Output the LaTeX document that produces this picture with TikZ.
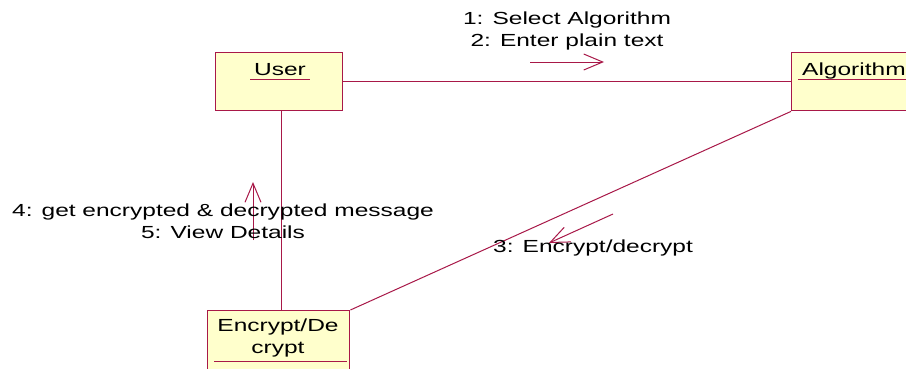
\documentclass[tikz,border=0pt]{standalone}
\usepackage{fontspec}
\newfontfamily\lbl[FakeStretch=1.4]{Liberation Sans}
\usetikzlibrary{arrows.meta}
\definecolor{rosered}{RGB}{168,24,72}
\definecolor{objfill}{RGB}{255,255,204}
\tikzset{
  objbox/.style={draw=rosered, line width=1.4pt, fill=objfill, inner sep=0pt, anchor=north west},
  txt/.style={font=\lbl\fontsize{17.5}{21.5}\selectfont, inner sep=0pt, align=center, text=black},
  link/.style={draw=rosered, line width=1pt},
  msg/.style={draw=rosered, line width=1pt, -{Straight Barb[length=19pt,width=16pt,line width=1pt]}}
}
\begin{document}
\begin{tikzpicture}[x=1pt,y=-1pt]
\useasboundingbox (0,0) rectangle (906,368);
\clip (0,0) rectangle (906,368);
\fill[white] (0,0) rectangle (906,368);

% object boxes
\node[objbox, minimum width=127pt, minimum height=58pt] (User) at (215,52) {};
\node[objbox, minimum width=150pt, minimum height=58pt] (Algorithm) at (791,52) {};
\node[objbox, minimum width=142pt, minimum height=80pt] (Encrypt) at (207,310) {};

% object names, underlined
\node[txt, anchor=base] (usertxt) at (280,75) {User};
\draw[rosered, line width=1pt] (250,79) -- (310,79);
\node[txt, anchor=base west] (algtxt) at (802,75) {Algorithm};
\draw[rosered, line width=1pt] (798,79) -- (906,79);
\node[txt, anchor=base] (enctxt) at (278,353) {Encrypt/De\\crypt};
\draw[rosered, line width=1pt] (214,361) -- (347,361);

% links
\draw[link] (User) -- (Algorithm);
\draw[link] ([xshift=2.5pt]User.south) -- ([xshift=2.5pt]User.south |- Encrypt.north);
\draw[link] (Algorithm.south west) -- (Encrypt.north east);

% messages
\coordinate (m1a) at (530,62);
\coordinate (m1b) at (604,62);
\draw[msg] (m1a) -- (m1b);
\node[txt, anchor=base] (m1) at (567,46) {1: Select Algorithm\\2: Enter plain text};

\coordinate (m2a) at (253,240);
\coordinate (m2b) at (253,182);
\draw[msg] (m2a) -- (m2b);
\node[txt, anchor=base] (m2) at (223,238) {4: get encrypted \& decrypted message\\5: View Details};

\coordinate (m3a) at (613,214);
\coordinate (m3b) at (549,243);
\draw[msg] (m3a) -- (m3b);
\node[txt, anchor=base west] (m3) at (493,252) {3: Encrypt/decrypt};
\end{tikzpicture}
\end{document}
